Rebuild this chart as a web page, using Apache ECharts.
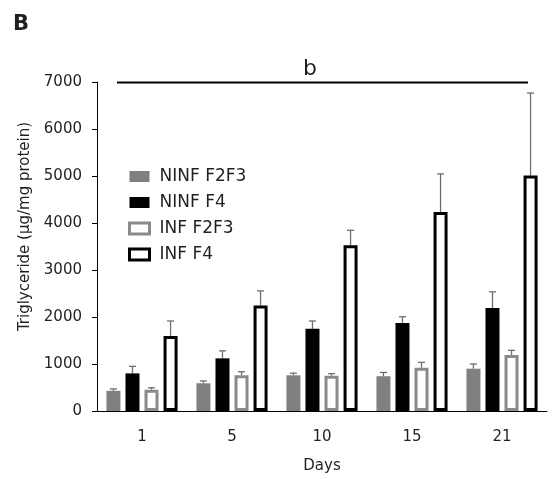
<!DOCTYPE html>
<html>
<head>
<meta charset="utf-8">
<script src="https://cdn.jsdelivr.net/npm/echarts@6/dist/echarts.min.js"></script>
<style>html,body{margin:0;padding:0;background:#fff;}#c{width:552px;height:479px;}</style>
</head>
<body>
<div id="c"></div>
<script>
const days = ['1', '5', '10', '15', '21'];
const seriesNames = ['NINF F2F3', 'NINF F4', 'INF F2F3', 'INF F4'];
const ninfF2F3 = [430, 590, 760, 740, 900];
const ninfF2F3Err = [40, 50, 45, 80, 100];
const ninfF4 = [800, 1120, 1750, 1870, 2190];
const ninfF4Err = [150, 160, 165, 135, 345];
const infF2F3 = [450, 760, 750, 920, 1190];
const infF2F3Err = [45, 75, 45, 115, 100];
const infF4 = [1595, 2245, 3525, 4235, 5010];
const infF4Err = [320, 310, 320, 810, 1755];
const yTicks = { min: 0, max: 7000, interval: 1000 };

const means = [ninfF2F3, ninfF4, infF2F3, infF4];
const errs = [ninfF2F3Err, ninfF4Err, infF2F3Err, infF4Err];

const FONT = 'DejaVu Sans';
const TXT = '#231f20';
const BAR_W = 14, GAP = 0.36;
const styles = [
  { color: '#808080', borderWidth: 0 },
  { color: '#000000', borderWidth: 0 },
  { color: '#ffffff', borderColor: '#8a8a8a', borderWidth: 3 },
  { color: '#ffffff', borderColor: '#000000', borderWidth: 3 }
];

const chart = echarts.init(document.getElementById('c'), null, { renderer: 'canvas' });

const series = [];
seriesNames.forEach((name, i) => {
  series.push({
    name: name, type: 'bar', data: means[i], barWidth: BAR_W, barGap: (GAP * 100) + '%',
    itemStyle: styles[i], z: 3, silent: true
  });
});
seriesNames.forEach((name, i) => {
  const offset = (i - 1.5) * BAR_W * (1 + GAP);
  series.push({
    name: name + ' err', type: 'custom', z: 2, silent: true,
    data: means[i].map((m, k) => [k, m, m + errs[i][k]]),
    encode: { x: 0, y: [1, 2] },
    renderItem: function (params, api) {
      const lo = api.coord([api.value(0), api.value(1)]);
      const hi = api.coord([api.value(0), api.value(2)]);
      const x = lo[0] + offset;
      const st = { stroke: '#6e6e6e', lineWidth: 1.3 };
      return {
        type: 'group', children: [
          { type: 'line', shape: { x1: x, y1: lo[1], x2: x, y2: hi[1] }, style: st },
          { type: 'line', shape: { x1: x - 3.5, y1: hi[1], x2: x + 3.5, y2: hi[1] }, style: st }
        ]
      };
    }
  });
});

chart.setOption({
  animation: false,
  backgroundColor: '#ffffff',
  title: {
    text: 'B', left: 13, top: 14, padding: 0,
    textStyle: { fontFamily: FONT, fontSize: 21, fontWeight: 'bold', color: TXT }
  },
  grid: { left: 97, right: 5, top: 82, bottom: 67, containLabel: false },
  legend: {
    orient: 'vertical', left: 128, top: 168, itemWidth: 20, itemHeight: 11, itemGap: 9,
    padding: 0, selectedMode: false,
    data: seriesNames.map((n, i) => ({ name: n, icon: 'rect', itemStyle: i >= 2 ? { borderWidth: 3 } : { borderWidth: 0 } })),
    textStyle: { fontFamily: FONT, fontSize: 17, color: TXT, padding: [0, 0, 0, 5] }
  },
  xAxis: {
    type: 'category', data: days,
    name: 'Days', nameLocation: 'middle', nameGap: 48,
    nameTextStyle: { fontFamily: FONT, fontSize: 15, color: TXT },
    axisLine: { lineStyle: { color: '#000', width: 1 } },
    axisTick: { alignWithLabel: true, length: 5, lineStyle: { color: '#000' } },
    axisLabel: { fontFamily: FONT, fontSize: 15, color: TXT, margin: 19 }
  },
  yAxis: {
    type: 'value', min: yTicks.min, max: yTicks.max, interval: yTicks.interval,
    name: 'Triglyceride (μg/mg protein)', nameLocation: 'middle', nameGap: 63,
    nameTextStyle: { fontFamily: FONT, fontSize: 15, color: TXT, padding: [0, 0, 0, 40] },
    axisLine: { show: true, lineStyle: { color: '#000', width: 1 } },
    axisTick: { show: true, length: 5, lineStyle: { color: '#000' } },
    splitLine: { show: false },
    axisLabel: { fontFamily: FONT, fontSize: 15, color: TXT, margin: 15, formatter: v => String(v) }
  },
  graphic: [
    { type: 'line', shape: { x1: 117, y1: 82.5, x2: 528, y2: 82.5 }, style: { stroke: '#000', lineWidth: 2 }, z: 10 },
    { type: 'text', x: 310, y: 80, style: { text: 'b', fontFamily: FONT, fontSize: 22, fill: TXT, align: 'center', verticalAlign: 'bottom' }, z: 10 }
  ],
  series: series
});
</script>
</body>
</html>
